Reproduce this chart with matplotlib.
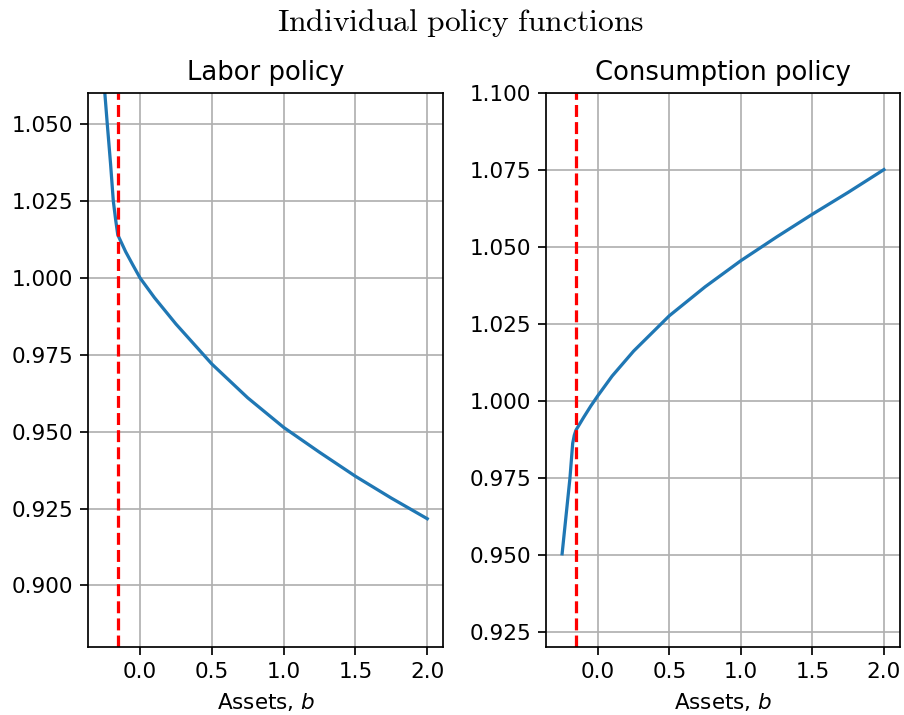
import matplotlib
matplotlib.use("Agg")
import matplotlib.pyplot as plt

# asset grid points and policy values
b_labor = [-0.25, -0.228, -0.205, -0.186, -0.170, -0.155, -0.1, -0.05, 0.0,
           0.1, 0.25, 0.5, 0.75, 1.0, 1.25, 1.5, 1.75, 2.0]
labor = [1.063, 1.050, 1.037, 1.025, 1.019, 1.014, 1.0085, 1.0042, 1.000,
         0.9936, 0.985, 0.972, 0.961, 0.9514, 0.9433, 0.9355, 0.9284, 0.9217]

b_cons = [-0.25, -0.195, -0.176, -0.165, -0.153, -0.1, -0.05, 0.0,
          0.1, 0.25, 0.5, 0.75, 1.0, 1.25, 1.5, 1.75, 2.0]
cons = [0.9503, 0.975, 0.9862, 0.9888, 0.9905, 0.9946, 0.9983, 1.0017,
        1.0081, 1.0162, 1.0277, 1.0371, 1.0456, 1.0533, 1.0607, 1.0678, 1.0752]

borrowing_limit = -0.15

DPI = 155
fig = plt.figure(figsize=(904 / DPI, 715 / DPI), dpi=DPI)
ax1 = fig.add_axes([0.0973, 0.0951, 0.3932, 0.7744])
ax2 = fig.add_axes([0.6040, 0.0951, 0.3916, 0.7744])

ax1.plot(b_labor, labor)
ax1.axvline(borrowing_limit, color="red", linestyle="--")
ax1.set_ylim(0.88, 1.06)
ax1.set_title("Labor policy")
ax1.set_xlabel("Assets, $b$")
ax1.grid(True)

ax2.plot(b_cons, cons)
ax2.axvline(borrowing_limit, color="red", linestyle="--")
ax2.set_ylim(0.92, 1.10)
ax2.set_title("Consumption policy")
ax2.set_xlabel("Assets, $b$")
ax2.grid(True)

fig.suptitle(r"$\mathrm{Individual\ policy\ functions}$", fontsize=14.7,
             x=0.509, y=0.99, math_fontfamily="cm")

fig.savefig("out.png", dpi=DPI)
